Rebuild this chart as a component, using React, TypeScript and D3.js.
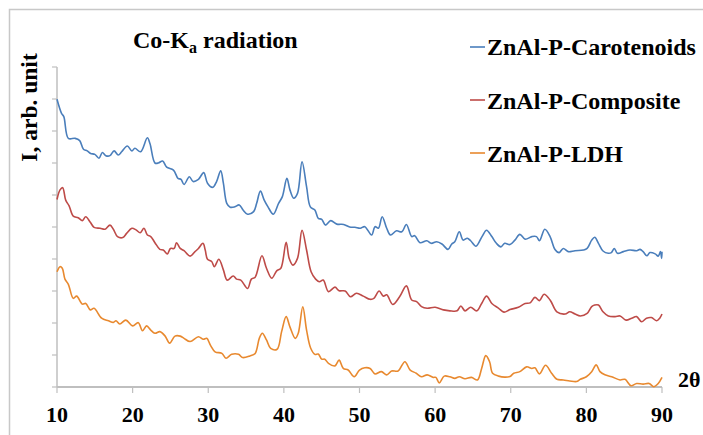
import React from "react";
import * as d3 from "d3";

const xTickValues = [10, 20, 30, 40, 50, 60, 70, 80, 90];
const yTickValues = [0, 1, 2, 3, 4, 5, 6, 7, 8, 9, 10];
const seriesNames = ["ZnAl-P-Carotenoids", "ZnAl-P-Composite", "ZnAl-P-LDH"];
const seriesColors = ["#4A7EBB", "#BE4B48", "#E8892F"];

const carotenoids: [number, number][] = [[10.0,8.99],[10.6,8.55],[10.9,8.45],[11.5,7.77],[12.4,7.77],[13.0,7.7],[13.5,7.43],[14.0,7.38],[14.45,7.3],[15.0,7.27],[15.55,7.15],[16.0,7.33],[16.45,7.23],[17.0,7.23],[17.55,7.38],[18.1,7.25],[18.55,7.35],[19.3,7.53],[19.9,7.38],[20.3,7.46],[21.05,7.35],[21.95,7.79],[22.3,7.6],[22.95,7.0],[23.4,7.0],[23.97,7.06],[24.5,6.87],[25.4,6.78],[26.0,6.52],[26.4,6.49],[26.8,6.33],[27.5,6.57],[28.0,6.42],[28.7,6.49],[29.4,6.7],[29.9,6.37],[30.6,6.24],[31.1,6.42],[31.65,6.76],[32.0,6.37],[32.45,5.74],[32.9,5.62],[33.5,5.63],[34.1,5.69],[34.6,5.53],[35.2,5.4],[36.0,5.48],[36.4,5.74],[36.9,6.12],[37.4,5.84],[37.9,5.63],[38.6,5.4],[39.3,5.74],[39.8,5.95],[40.4,6.52],[40.8,6.16],[41.3,5.9],[41.8,6.05],[42.4,7.04],[43.0,6.26],[43.5,5.63],[44.1,5.53],[44.55,5.27],[45.0,5.24],[45.5,5.06],[46.2,5.2],[47.0,5.09],[47.9,5.08],[48.7,5.0],[49.4,4.99],[50.1,4.96],[50.7,5.01],[51.6,4.75],[52.05,5.01],[52.5,4.96],[53.0,5.32],[53.6,4.96],[54.1,4.75],[54.9,4.88],[55.6,4.85],[56.2,5.08],[56.9,4.7],[57.3,4.73],[58.0,4.51],[58.9,4.57],[59.5,4.49],[60.2,4.54],[60.9,4.47],[61.7,4.3],[62.2,4.47],[62.6,4.54],[63.2,4.85],[63.7,4.59],[64.25,4.65],[64.7,4.57],[65.4,4.4],[66.2,4.7],[66.8,4.9],[67.5,4.7],[68.1,4.49],[68.7,4.38],[69.2,4.49],[69.9,4.45],[70.55,4.59],[71.2,4.77],[71.9,4.62],[72.8,4.7],[73.4,4.7],[73.8,4.57],[74.5,4.93],[75.2,4.7],[75.85,4.3],[76.4,4.2],[76.95,4.33],[77.6,4.23],[78.5,4.26],[79.6,4.28],[80.1,4.33],[80.7,4.59],[81.1,4.68],[81.6,4.49],[82.2,4.25],[82.9,4.18],[83.3,4.2],[83.7,4.33],[84.1,4.18],[84.9,4.23],[85.75,4.28],[86.65,4.26],[87.1,4.3],[87.5,4.23],[88.0,4.1],[88.4,4.2],[89.1,4.16],[89.5,4.09],[89.8,4.23],[89.95,4.02],[90,4.23]];

const composite: [number, number][] = [[10.0,5.86],[10.4,6.16],[10.75,6.23],[11.15,5.84],[11.6,5.66],[12.15,5.34],[12.8,5.29],[13.35,5.2],[13.8,5.32],[14.4,5.15],[14.9,4.99],[15.7,4.96],[16.35,4.93],[17.0,5.06],[17.45,4.93],[18.0,4.7],[18.7,4.67],[19.2,4.8],[19.9,4.96],[20.45,4.91],[21.0,4.82],[21.5,4.96],[21.95,4.75],[22.4,4.7],[22.95,4.51],[23.6,4.3],[24.05,4.28],[24.6,4.16],[25.0,4.33],[25.5,4.33],[25.8,4.51],[26.3,4.33],[26.8,4.26],[27.6,4.09],[28.25,4.23],[28.7,4.33],[29.3,4.49],[29.6,4.28],[29.9,3.99],[30.45,3.92],[30.8,3.76],[31.4,3.99],[32.0,3.66],[32.5,3.34],[33.3,3.47],[33.75,3.37],[34.3,3.34],[35.2,3.08],[35.7,3.37],[36.2,3.43],[37.1,4.1],[37.7,3.71],[38.4,3.4],[39.05,3.63],[39.6,3.71],[40.3,4.52],[40.7,4.02],[41.2,3.81],[41.8,4.02],[42.4,4.9],[43.0,4.28],[43.6,3.6],[44.2,3.37],[44.7,3.29],[45.2,3.34],[45.9,2.98],[46.75,3.12],[47.3,3.01],[48.1,3.0],[48.8,2.82],[49.6,2.93],[50.5,2.84],[51.4,2.74],[51.9,2.77],[52.6,3.0],[53.15,2.84],[53.6,2.88],[54.4,2.58],[55.3,2.82],[56.2,3.16],[56.9,2.72],[57.55,2.67],[58.2,2.51],[58.95,2.46],[60.0,2.49],[61.1,2.41],[61.95,2.38],[62.9,2.38],[63.4,2.53],[63.95,2.38],[64.7,2.49],[65.5,2.38],[66.15,2.61],[66.8,2.84],[67.5,2.61],[68.4,2.46],[69.1,2.34],[69.9,2.42],[71.0,2.49],[71.9,2.61],[72.55,2.63],[73.2,2.8],[73.8,2.7],[74.4,2.9],[75.2,2.72],[76.1,2.35],[77.2,2.28],[77.8,2.35],[78.5,2.28],[79.2,2.22],[80.1,2.3],[80.7,2.51],[81.1,2.56],[81.6,2.56],[82.2,2.35],[82.9,2.22],[83.8,2.2],[84.45,2.22],[85.25,2.09],[86.0,2.15],[86.65,2.2],[87.3,2.04],[87.95,2.15],[88.6,2.17],[89.3,2.07],[89.7,2.15],[90,2.28]];

const ldh: [number, number][] = [[10.0,3.6],[10.4,3.76],[10.7,3.71],[11.05,3.37],[11.5,3.21],[12.15,2.77],[12.6,2.84],[13.35,2.59],[13.8,2.61],[14.4,2.41],[14.9,2.46],[15.9,2.15],[16.8,2.07],[17.45,2.02],[17.8,2.07],[18.3,1.97],[19.1,2.09],[20.0,1.91],[20.75,2.01],[21.3,1.76],[21.85,1.91],[22.4,1.78],[22.95,1.68],[23.6,1.73],[24.3,1.59],[24.9,1.37],[25.6,1.59],[26.3,1.59],[26.8,1.52],[27.6,1.42],[28.7,1.57],[29.35,1.49],[29.8,1.52],[30.3,1.3],[30.9,1.1],[31.8,1.05],[32.35,0.9],[33.1,1.02],[34.0,1.02],[34.55,0.92],[35.5,0.97],[36.2,1.05],[36.75,1.52],[37.15,1.68],[37.7,1.47],[38.25,1.21],[39.1,1.18],[39.7,1.73],[40.3,2.2],[40.8,1.88],[41.5,1.52],[41.9,1.68],[42.5,2.51],[43.0,1.78],[43.55,1.21],[44.1,1.02],[44.55,1.03],[45.0,0.87],[45.4,0.87],[45.9,0.74],[46.75,0.66],[47.3,0.84],[47.85,0.58],[48.5,0.53],[49.3,0.32],[50.0,0.53],[50.7,0.6],[51.4,0.58],[52.05,0.41],[52.9,0.48],[53.6,0.38],[54.25,0.5],[55.1,0.5],[56.0,0.79],[56.7,0.53],[57.5,0.43],[58.2,0.32],[58.95,0.38],[59.75,0.3],[60.1,0.3],[60.55,0.13],[61.2,0.34],[61.95,0.32],[62.6,0.27],[63.2,0.32],[63.95,0.26],[64.8,0.3],[65.6,0.22],[66.15,0.58],[66.7,0.98],[67.2,0.79],[67.6,0.43],[68.4,0.34],[69.2,0.31],[69.9,0.33],[70.4,0.43],[71.2,0.48],[72.1,0.63],[72.8,0.58],[73.2,0.6],[73.8,0.41],[74.6,0.68],[75.4,0.43],[76.1,0.24],[76.95,0.22],[77.8,0.19],[78.7,0.17],[79.2,0.24],[80.0,0.32],[80.7,0.48],[81.3,0.69],[81.8,0.48],[82.45,0.38],[83.35,0.32],[84.45,0.22],[85.1,0.24],[85.9,0.04],[86.65,0.11],[87.5,0.09],[88.3,0.11],[88.9,0.01],[89.5,0.11],[90,0.3]];

const allSeries = [carotenoids, composite, ldh];

const FONT = "'Liberation Serif', 'Times New Roman', serif";

export default function App() {
  const W = 703, H = 435;
  const x = d3.scaleLinear().domain([10, 90]).range([57, 662]);
  const y = d3.scaleLinear().domain([0, 10]).range([387, 67]);
  const line = d3
    .line<[number, number]>()
    .x((d) => x(d[0]))
    .y((d) => y(d[1]))
    .curve(d3.curveCatmullRom.alpha(0.5));
  const axisColor = "#BFBFBF";

  return (
    <svg
      width={W}
      height={H}
      style={{ position: "absolute", left: 0, top: 0, background: "#fff" }}
      fontFamily={FONT}
      fontWeight="bold"
    >
      <rect x={0} y={0} width={W} height={H} fill="#fff" />
      <rect x={9.5} y={9.5} width={705} height={440} fill="none" stroke="#C8C8C8" strokeWidth={1.5} />

      {/* y axis */}
      <line x1={x(10)} x2={x(10)} y1={y(0)} y2={y(10)} stroke={axisColor} strokeWidth={1.5} />
      {yTickValues.map((v) => (
        <line key={"yt" + v} x1={x(10) - 5} x2={x(10)} y1={y(v)} y2={y(v)} stroke={axisColor} strokeWidth={1.2} />
      ))}

      {/* x axis */}
      <line x1={x(10)} x2={x(90)} y1={y(0)} y2={y(0)} stroke={axisColor} strokeWidth={1.8} />
      {xTickValues.map((v) => (
        <g key={"xt" + v}>
          <line x1={x(v)} x2={x(v)} y1={y(0)} y2={y(0) + 6} stroke={axisColor} strokeWidth={1.2} />
          <text x={x(v)} y={422} textAnchor="middle" fontSize={22} fill="#000">
            {v}
          </text>
        </g>
      ))}
      <text x={678} y={387} fontSize={22} fill="#000">2θ</text>

      {/* series */}
      {allSeries.map((s, i) => (
        <path key={"s" + i} d={line(s) || ""} fill="none" stroke={seriesColors[i]} strokeWidth={1.6} strokeLinejoin="round" />
      ))}

      {/* title */}
      <text x={133} y={48} fontSize={24} fill="#000">
        Co-K
        <tspan fontSize={16} dy={5}>a</tspan>
        <tspan dy={-5}> radiation</tspan>
      </text>

      {/* y label */}
      <text transform="translate(37,107.5) rotate(-90)" textAnchor="middle" fontSize={23.5} fill="#000">
        I, arb. unit
      </text>

      {/* legend */}
      {seriesNames.map((n, i) => (
        <g key={"lg" + i}>
          <line x1={470} x2={485} y1={47 + i * 53} y2={47 + i * 53} stroke={seriesColors[i]} strokeWidth={1.6} />
          <text x={487} y={55 + i * 53.5} fontSize={24} fill="#000">{n}</text>
        </g>
      ))}
    </svg>
  );
}
